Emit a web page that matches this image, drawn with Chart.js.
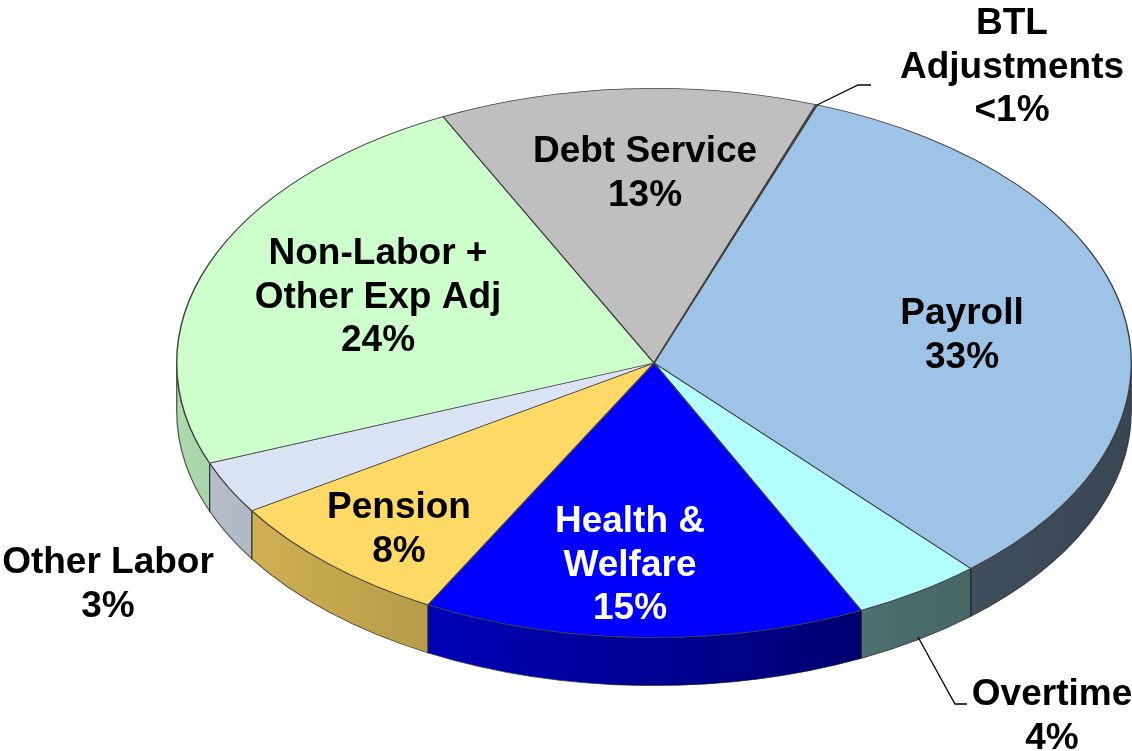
<!DOCTYPE html>
<html><head><meta charset="utf-8">
<style>html,body{margin:0;padding:0;background:#fff}#w{width:1132px;height:751px;position:relative}</style>
<script src="https://cdn.jsdelivr.net/npm/chart.js@4"></script>
</head><body><div id="w"><canvas id="c"></canvas></div>
<script>
const categories=['Payroll','Overtime','Health & Welfare','Pension','Other Labor','Non-Labor + Other Exp Adj','Debt Service','BTL Adjustments'];
const shares=[32.9,4.4,15,8.1,3.1,23.66,12.79,0.05];
const colors=['#9DC3E6','#B3FFFF','#0000FF','#FFD966','#DAE3F3','#CCFFCC','#BFBFBF','#BFBFBF'];
const labelLines=[['Payroll','33%'],['Overtime','4%'],['Health &','Welfare','15%'],['Pension','8%'],['Other Labor','3%'],['Non-Labor +','Other Exp Adj','24%'],['Debt Service','13%'],['BTL','Adjustments','<1%']];
const labelX=[962,1052,630,399,108,378,645,1012];
const labelTop=[314,695,522,508,563,254,152,24];
const labelColors=['#000','#000','#fff','#000','#000','#000','#000','#000'];
const leaders=[[[817,105],[858,85],[871,85]],[[918,637],[955,704],[967,704]]];
const stretchX=478/275, depth=48;
function rgb(h){return [1,3,5].map(i=>parseInt(h.substr(i,2),16));}
const shadeStops=[[0,.85],[.26,.72],[.76,.42],[1,.36]];
const pie3d={id:'pie3d',
 beforeDatasetsDraw(ch){
  const ctx=ch.ctx, meta=ch.getDatasetMeta(0), e0=meta.data[0];
  const cx=e0.x, cy=e0.y;
  ctx.save();
  ctx.translate(cx,cy);ctx.scale(stretchX,1);ctx.translate(-cx,-cy);
  meta.data.forEach((el,i)=>{
   const p=el.getProps(['startAngle','endAngle','outerRadius']);
   const R=p.outerRadius;
   for(let k=-1;k<=1;k++){
    const a=Math.max(p.startAngle,2*Math.PI*k), b=Math.min(p.endAngle,2*Math.PI*k+Math.PI);
    if(b<=a) continue;
    const g=ctx.createLinearGradient(cx-R,0,cx+R,0), c=rgb(colors[i]);
    shadeStops.forEach(s=>g.addColorStop(s[0],`rgb(${c.map(v=>Math.round(v*s[1])).join(',')})`));
    ctx.beginPath();
    ctx.arc(cx,cy,R,a,b);
    ctx.arc(cx,cy+depth,R,b,a,true);
    ctx.closePath();
    ctx.fillStyle=g;ctx.fill();
    ctx.lineWidth=.7;ctx.strokeStyle='rgba(30,30,30,.75)';ctx.stroke();
   }
  });
 },
 afterDatasetsDraw(ch){
  const ctx=ch.ctx;
  ctx.restore();
  ctx.strokeStyle='#000';ctx.lineWidth=1.3;
  leaders.forEach(l=>{ctx.beginPath();l.forEach((q,j)=>j?ctx.lineTo(q[0],q[1]):ctx.moveTo(q[0],q[1]));ctx.stroke();});
  ctx.font='bold 37px "Liberation Sans", Arial, sans-serif';
  ctx.textAlign='center';ctx.textBaseline='middle';
  labelLines.forEach((ls,i)=>{
   ctx.fillStyle=labelColors[i];
   ls.forEach((t,j)=>ctx.fillText(t,labelX[i],labelTop[i]+j*43.5));
  });
 }};
new Chart(document.getElementById('c'),{
 type:'pie',
 data:{labels:categories,datasets:[{data:shares,backgroundColor:colors,borderColor:'#404040',borderWidth:.8,clip:false}]},
 options:{responsive:true,maintainAspectRatio:false,animation:false,rotation:20,
  layout:{padding:{top:88,bottom:113,left:176,right:0}},
  plugins:{legend:{display:false},tooltip:{enabled:false}}},
 plugins:[pie3d]});
</script></body></html>
